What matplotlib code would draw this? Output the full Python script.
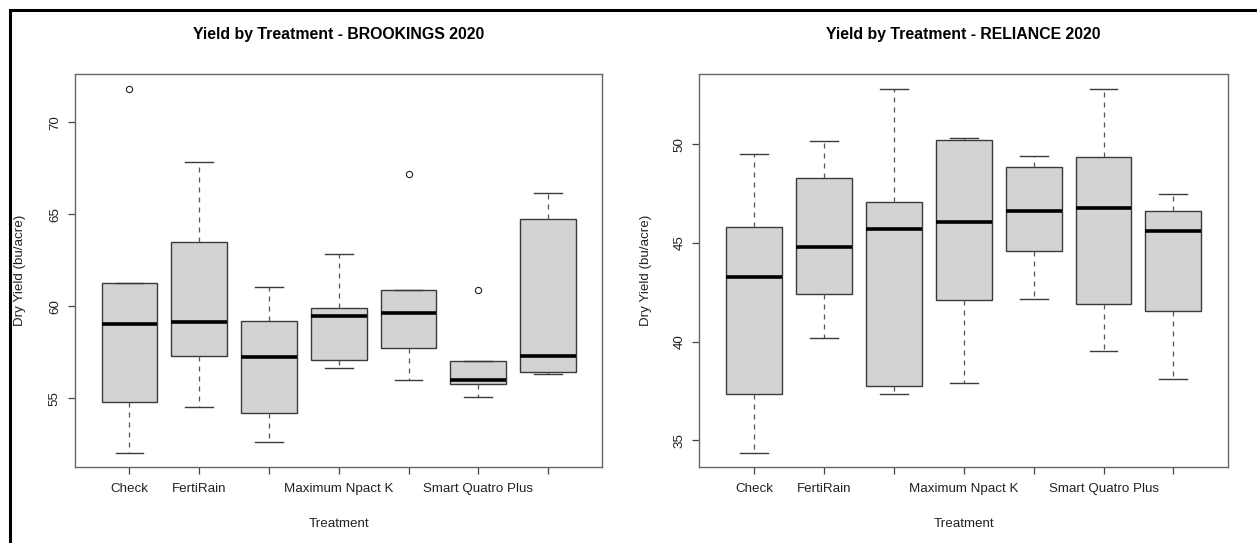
import matplotlib
matplotlib.use("Agg")
import matplotlib.pyplot as plt
from matplotlib.lines import Line2D

plt.rcParams['font.family'] = ['Liberation Sans', 'DejaVu Sans']

# Etiquetas del eje x (R oculta las que se solapan)
tratamientos = ["Check", "FertiRain", "", "Maximum Npact K", "", "Smart Quatro Plus", ""]

# BROOKINGS 2020
brk_q1 = [54.8, 57.28, 54.22, 57.08, 57.73, 55.76, 56.42]
brk_med = [59.04, 59.13, 57.24, 59.45, 59.65, 55.97, 57.28]
brk_q3 = [61.28, 63.51, 59.22, 59.89, 60.87, 57.0, 64.76]
brk_wlo = [52.04, 54.5, 52.64, 56.62, 55.98, 55.08, 56.34]
brk_whi = [61.28, 67.84, 61.05, 62.85, 60.87, 57.0, 66.16]
brk_out = [[71.81], [], [], [], [67.18], [60.86], []]
brk_yticks = [55, 60, 65, 70]

# RELIANCE 2020
rel_q1 = [37.32, 42.39, 37.77, 42.11, 44.6, 41.88, 41.53]
rel_med = [43.27, 44.8, 45.71, 46.08, 46.62, 46.76, 45.6]
rel_q3 = [45.78, 48.26, 47.06, 50.21, 48.82, 49.33, 46.62]
rel_wlo = [34.37, 40.2, 37.32, 37.9, 42.15, 39.53, 38.11]
rel_whi = [49.49, 50.15, 52.8, 50.31, 49.38, 52.8, 47.48]
rel_out = [[], [], [], [], [], [], []]
rel_yticks = [35, 40, 45, 50]

gris_caja = '#D3D3D3'
borde = '#3a3a3a'


def dibujar(ax, titulo, q1, med, q3, wlo, whi, out, yticks):
    stats = []
    for i in range(len(tratamientos)):
        stats.append({
            'med': med[i], 'q1': q1[i], 'q3': q3[i],
            'whislo': wlo[i], 'whishi': whi[i], 'fliers': out[i],
        })
    ax.bxp(stats, positions=range(1, len(stats) + 1), widths=0.8,
           patch_artist=True, showfliers=True,
           boxprops=dict(facecolor=gris_caja, edgecolor=borde, linewidth=1.0),
           medianprops=dict(color='black', linewidth=2.6, solid_capstyle='butt'),
           whiskerprops=dict(color='#555555', linewidth=0.9, linestyle=(0, (4, 4))),
           capprops=dict(color=borde, linewidth=1.0),
           capwidths=0.4,
           flierprops=dict(marker='o', markersize=4.5, markerfacecolor='none',
                           markeredgecolor='#222222', markeredgewidth=0.8))

    # limites al estilo R (4% extra)
    todos = wlo + whi + [v for o in out for v in o]
    lo, hi = min(todos), max(todos)
    extra = (hi - lo) * 0.04
    ax.set_ylim(lo - extra, hi + extra)
    n = len(tratamientos)
    ax.set_xlim(0.5 - n * 0.04, n + 0.5 + n * 0.04)

    ax.set_xticks(range(1, n + 1))
    ax.set_xticklabels(tratamientos, fontsize=9.6, color='#222222')
    ax.set_yticks(yticks)
    ax.set_yticklabels([str(v) for v in yticks], fontsize=9.6, color='#222222',
                       rotation=90, va='center')
    ax.tick_params(axis='x', length=5, width=0.9, color='#444444', pad=6.2)
    ax.tick_params(axis='y', length=5, width=0.9, color='#444444', pad=5.2)

    for s in ax.spines.values():
        s.set_color('#666666')
        s.set_linewidth(1.0)

    ax.set_title(titulo, fontsize=11.4, fontweight='bold', y=1.079, va='center')
    ax.set_xlabel('Treatment', fontsize=9.6, color='#222222')
    ax.xaxis.set_label_coords(0.5, -0.143)
    ax.xaxis.label.set_va('center')
    ax.set_ylabel('Dry Yield (bu/acre)', fontsize=9.6, color='#222222')
    ax.yaxis.label.set_va('center')


fig = plt.figure(figsize=(12.57, 5.43), dpi=100)
ax1 = fig.add_axes([0.0597, 0.1394, 0.4196, 0.7238])
ax2 = fig.add_axes([0.5564, 0.1394, 0.4205, 0.7238])

dibujar(ax1, 'Yield by Treatment - BROOKINGS 2020',
        brk_q1, brk_med, brk_q3, brk_wlo, brk_whi, brk_out, brk_yticks)
ax1.yaxis.set_label_coords(-0.1043, 0.5)

dibujar(ax2, 'Yield by Treatment - RELIANCE 2020',
        rel_q1, rel_med, rel_q3, rel_wlo, rel_whi, rel_out, rel_yticks)
ax2.yaxis.set_label_coords(-0.1016, 0.5)

# marco negro (solo arriba e izquierda, la imagen esta recortada)
fig.add_artist(Line2D([9.7 / 1257, 1.0], [1 - 9.5 / 543, 1 - 9.5 / 543],
                      transform=fig.transFigure, color='black', linewidth=2.2))
fig.add_artist(Line2D([9.7 / 1257, 9.7 / 1257], [0.0, 1 - 9.5 / 543],
                      transform=fig.transFigure, color='black', linewidth=2.2))

fig.savefig('out.png', dpi=100)
